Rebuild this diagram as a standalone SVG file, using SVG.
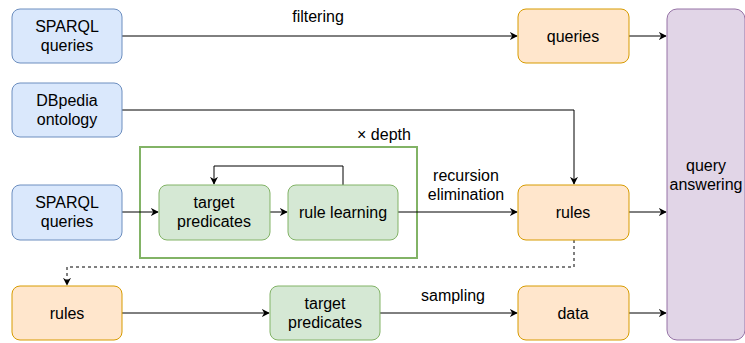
<svg xmlns="http://www.w3.org/2000/svg" width="745" height="343" viewBox="0 0 745 343">
  <style>
    .box { stroke-width: 1; }
    .blue { fill: #dae8fc; stroke: #6c8ebf; }
    .orange { fill: #ffe6cc; stroke: #d79b00; }
    .green { fill: #d5e8d4; stroke: #82b366; }
    .purple { fill: #e1d5e7; stroke: #9673a6; }
    text { font-family: "Liberation Sans", Arial, sans-serif; font-size: 16px; fill: #000; text-anchor: middle; }
    .edge { fill: none; stroke: #000; stroke-width: 1; }
    .dash { stroke-dasharray: 3 3; }
  </style>
  <defs>
    <marker id="arrow" viewBox="0 0 10 10" refX="9" refY="5" markerWidth="8" markerHeight="8" markerUnits="userSpaceOnUse" orient="auto">
      <path d="M0,0 L10,5 L0,10 L3,5 Z" fill="#000"/>
    </marker>
  </defs>

  <!-- loop container -->
  <g id="depth-loop">
    <rect x="140" y="147" width="277" height="111" fill="none" stroke="#82b366" stroke-width="2"/>
    <text x="384" y="140">× depth</text>
  </g>

  <g id="connectors">
    <path class="edge" d="M122,36 H517" marker-end="url(#arrow)"/>
    <text x="318" y="22">filtering</text>
    <path class="edge" d="M629,36 H666" marker-end="url(#arrow)"/>
    <path class="edge" d="M122,110 H574 V184" marker-end="url(#arrow)"/>
    <path class="edge" d="M122,212 H158" marker-end="url(#arrow)"/>
    <path class="edge" d="M270,212 H287" marker-end="url(#arrow)"/>
    <path class="edge" d="M343,185 V166 H214 V184" marker-end="url(#arrow)"/>
    <path class="edge" d="M398,212 H517" marker-end="url(#arrow)"/>
    <text x="466" y="181">recursion</text>
    <text x="466" y="200">elimination</text>
    <path class="edge" d="M629,212 H666" marker-end="url(#arrow)"/>
    <path class="edge dash" d="M574,240 V267 H67 V285" marker-end="url(#arrow)"/>
    <path class="edge" d="M122,313 H269" marker-end="url(#arrow)"/>
    <path class="edge" d="M380,313 H517" marker-end="url(#arrow)"/>
    <text x="453" y="301">sampling</text>
    <path class="edge" d="M629,313 H666" marker-end="url(#arrow)"/>
  </g>

  <g id="sparql-queries-1">
    <rect class="box blue" x="12" y="9" width="110" height="54" rx="8"/>
    <text x="67" y="32">SPARQL</text>
    <text x="67" y="51">queries</text>
  </g>
  <g id="dbpedia-ontology">
    <rect class="box blue" x="12" y="83" width="110" height="54" rx="8"/>
    <text x="67" y="106">DBpedia</text>
    <text x="67" y="125">ontology</text>
  </g>
  <g id="sparql-queries-2">
    <rect class="box blue" x="12" y="185" width="110" height="55" rx="8"/>
    <text x="67" y="208">SPARQL</text>
    <text x="67" y="227">queries</text>
  </g>
  <g id="target-predicates-1">
    <rect class="box green" x="159" y="185" width="111" height="55" rx="8"/>
    <text x="214" y="208">target</text>
    <text x="214" y="227">predicates</text>
  </g>
  <g id="rule-learning">
    <rect class="box green" x="288" y="185" width="110" height="55" rx="8"/>
    <text x="343" y="218">rule learning</text>
  </g>
  <g id="queries">
    <rect class="box orange" x="518" y="9" width="111" height="54" rx="8"/>
    <text x="573" y="42">queries</text>
  </g>
  <g id="rules-1">
    <rect class="box orange" x="518" y="185" width="111" height="55" rx="8"/>
    <text x="573" y="218">rules</text>
  </g>
  <g id="rules-2">
    <rect class="box orange" x="12" y="286" width="110" height="54" rx="8"/>
    <text x="67" y="319">rules</text>
  </g>
  <g id="target-predicates-2">
    <rect class="box green" x="270" y="286" width="110" height="54" rx="8"/>
    <text x="325" y="309">target</text>
    <text x="325" y="328">predicates</text>
  </g>
  <g id="data">
    <rect class="box orange" x="518" y="286" width="111" height="54" rx="8"/>
    <text x="573" y="319">data</text>
  </g>
  <g id="query-answering">
    <rect class="box purple" x="667" y="9" width="78" height="331" rx="10"/>
    <text x="706" y="171">query</text>
    <text x="706" y="190">answering</text>
  </g>
</svg>
